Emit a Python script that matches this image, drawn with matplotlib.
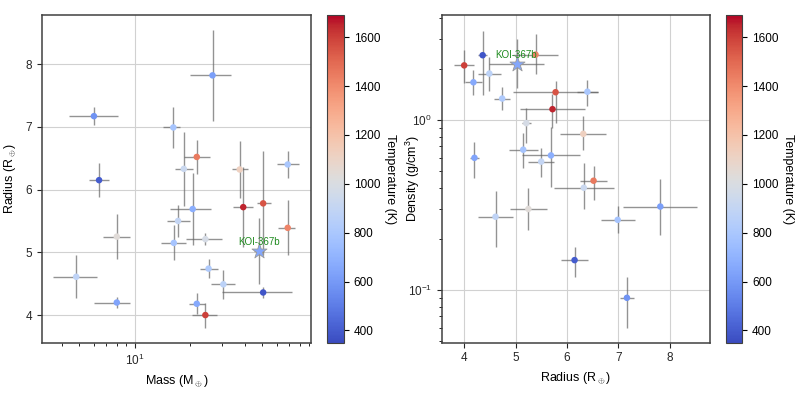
import numpy as np
import matplotlib
matplotlib.use("Agg")
import matplotlib.pyplot as plt
from matplotlib.colors import Normalize

plt.rcParams['font.family'] = ['Liberation Sans', 'DejaVu Sans']
plt.rcParams['mathtext.fontset'] = 'custom'
plt.rcParams['mathtext.rm'] = 'Liberation Sans'
plt.rcParams['mathtext.it'] = 'Liberation Sans:italic'
plt.rcParams['mathtext.bf'] = 'Liberation Sans:bold'

# ---- data ----
mass = [6.0, 6.4, 16.3, 18.6, 21.9, 26.7, 37.6, 68.8, 39.3, 50.5, 20.8, 17.3,
        8.0, 24.4, 16.4, 68.8, 47.8, 25.4, 30.6, 50.5, 4.8, 8.0, 21.9, 24.4]
mass_lo = [1.6, 0.76, 1.9, 1.9, 3.3, 6.5, 3.6, 8.6, 4.8, 3.9, 5.2, 2.3,
           1.3, 5.4, 2.5, 8.1, 3.0, 2.7, 4.3, 20.5, 1.2, 2.0, 2.1, 3.7]
mass_hi = [2.1, 0.86, 1.5, 2.2, 4.0, 7.1, 4.2, 10.2, 5.0, 5.3, 5.5, 2.7,
           1.5, 5.8, 2.7, 7.0, 3.0, 3.2, 4.7, 21.8, 1.4, 1.5, 2.4, 4.0]
radius = [7.17, 6.15, 6.99, 6.33, 6.52, 7.82, 6.32, 6.40, 5.72, 5.78, 5.69, 5.50,
          5.25, 5.21, 5.15, 5.39, 5.02, 4.74, 4.49, 4.36, 4.61, 4.20, 4.18, 4.00]
radius_err = [0.14, 0.27, 0.33, 0.59, 0.27, 0.72, 0.45, 0.21, 0.64, 0.83, 0.57, 0.25,
              0.36, 0.09, 0.28, 0.44, 0.53, 0.155, 0.23, 0.09, 0.34, 0.08, 0.17, 0.20]
density = [0.090, 0.150, 0.259, 0.40, 0.44, 0.31, 0.83, 1.47, 1.16, 1.46, 0.62, 0.57,
           0.30, 0.96, 0.67, 2.43, 2.13, 1.34, 1.88, 2.41, 0.27, 0.60, 1.67, 2.10]
density_lo = [0.030, 0.030, 0.041, 0.10, 0.10, 0.10, 0.165, 0.26, 0.26, 0.50, 0.215, 0.108,
              0.073, 0.23, 0.15, 0.57, 0.58, 0.20, 0.40, 1.0, 0.092, 0.146, 0.27, 0.45]
density_hi = [0.030, 0.028, 0.053, 0.16, 0.10, 0.14, 0.225, 0.26, 0.26, 0.24, 0.29, 0.115,
              0.099, 0.22, 0.17, 0.80, 0.86, 0.22, 0.46, 0.94, 0.112, 0.146, 0.30, 0.48]
temperature = [580, 400, 780, 930, 1450, 620, 1120, 800, 1650, 1550, 680, 900,
               1040, 980, 780, 1420, 650, 820, 870, 380, 880, 640, 660, 1600]
highlight = 16  # index of KOI-367b
highlight_name = "KOI-367b"

mass = np.array(mass); radius = np.array(radius); density = np.array(density)
temperature = np.array(temperature)

cmap = plt.get_cmap('coolwarm')
norm = Normalize(vmin=350, vmax=1690)

fig = plt.figure(figsize=(8.0, 3.98), dpi=100)
ax1 = fig.add_axes([0.0525, 0.139, 0.336, 0.823])
cax1 = fig.add_axes([0.409, 0.139, 0.021, 0.823])
ax2 = fig.add_axes([0.552, 0.139, 0.335, 0.823])
cax2 = fig.add_axes([0.908, 0.139, 0.020, 0.823])

ebkw = dict(fmt='none', ecolor='0.4', elinewidth=1.0, alpha=0.7, capsize=0, zorder=1)
others = [i for i in range(len(mass)) if i != highlight]

def style(ax):
    ax.grid(True, which='major', color='0.82', lw=0.8)
    ax.set_axisbelow(True)
    for s in ax.spines.values():
        s.set_color('0.25'); s.set_linewidth(1.1)
    ax.tick_params(labelsize=8.5, colors='0.15')

# Left: mass-radius
ax1.errorbar(mass, radius, xerr=[mass_lo, mass_hi], yerr=radius_err, **ebkw)
ax1.scatter(mass[others], radius[others], c=temperature[others], cmap=cmap, norm=norm,
            s=22, edgecolors='none', zorder=3)
ax1.scatter(mass[highlight], radius[highlight], c=[temperature[highlight]], cmap=cmap, norm=norm,
            marker='*', s=130, edgecolors='0.6', linewidths=0.6, zorder=4)
ax1.annotate(highlight_name, (mass[highlight], radius[highlight]), xytext=(0, 3),
             textcoords='offset points', ha='center', va='bottom', fontsize=7,
             color='#1e8a1e', zorder=5)
ax1.set_xscale('log')
ax1.set_xlim(3.12, 92)
ax1.set_ylim(3.56, 8.78)
ax1.set_yticks([4, 5, 6, 7, 8])
ax1.set_xlabel(r'Mass (M$_\oplus$)', fontsize=9)
ax1.set_ylabel(r'Radius (R$_\oplus$)', fontsize=9)
ax1.yaxis.set_label_coords(-0.09, 0.5)
style(ax1)

# Right: radius-density
ax2.errorbar(radius, density, xerr=radius_err, yerr=[density_lo, density_hi], **ebkw)
ax2.scatter(radius[others], density[others], c=temperature[others], cmap=cmap, norm=norm,
            s=22, edgecolors='none', zorder=3)
ax2.scatter(radius[highlight], density[highlight], c=[temperature[highlight]], cmap=cmap, norm=norm,
            marker='*', s=130, edgecolors='0.6', linewidths=0.6, zorder=4)
ax2.annotate(highlight_name, (radius[highlight], density[highlight]), xytext=(0, 3),
             textcoords='offset points', ha='center', va='bottom', fontsize=7,
             color='#1e8a1e', zorder=5)
ax2.set_yscale('log')
ax2.set_xlim(3.56, 8.78)
ax2.set_ylim(0.049, 4.15)
ax2.set_xticks([4, 5, 6, 7, 8])
ax2.set_xlabel(r'Radius (R$_\oplus$)', fontsize=9)
ax2.set_ylabel(r'Density (g/cm$^3$)', fontsize=9)
ax2.yaxis.set_label_coords(-0.075, 0.5)
style(ax2)

sm = plt.cm.ScalarMappable(cmap=cmap, norm=norm)
for cax in (cax1, cax2):
    cb = fig.colorbar(sm, cax=cax)
    cb.set_label('Temperature (K)', rotation=270, labelpad=11, fontsize=9)
    cb.ax.tick_params(labelsize=8.5)
    cb.outline.set_edgecolor('0.25')

fig.savefig('out.png', dpi=100)
